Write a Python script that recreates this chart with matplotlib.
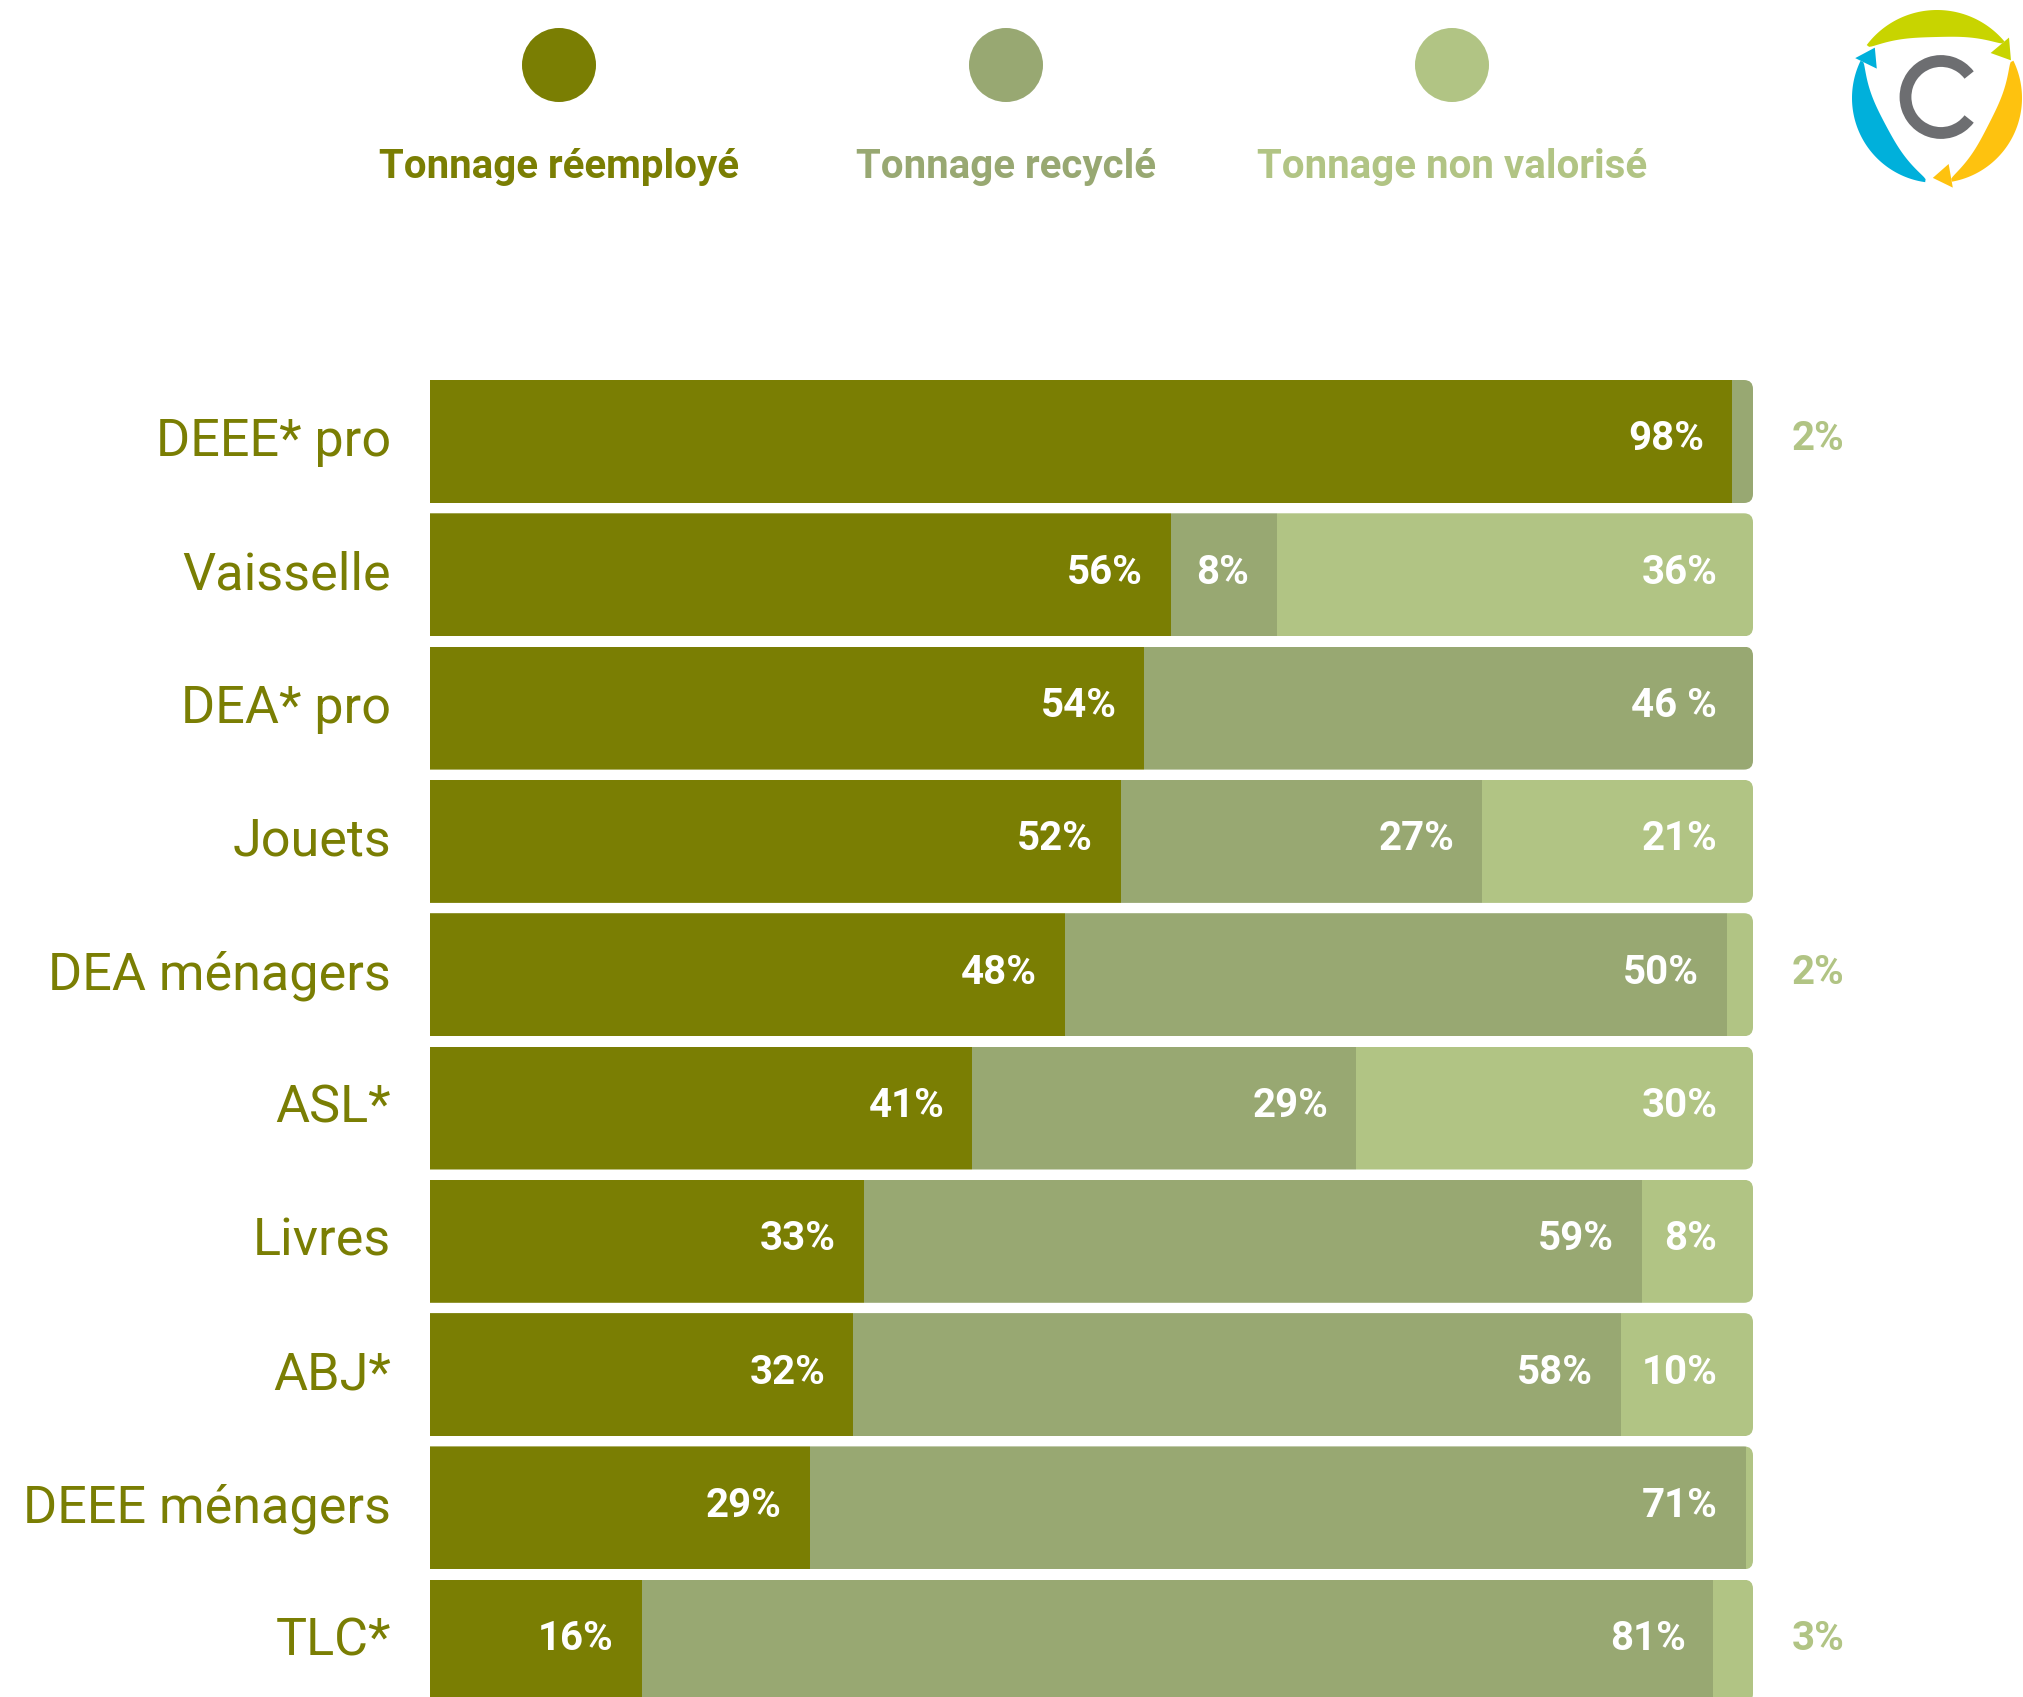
import numpy as np
import matplotlib.pyplot as plt
from matplotlib.patches import FancyBboxPatch, Arc, Polygon
from matplotlib.transforms import ScaledTranslation

plt.rcParams['font.family'] = ['Roboto', 'DejaVu Sans']

categories = ['DEEE* pro', 'Vaisselle', 'DEA* pro', 'Jouets', 'DEA ménagers',
              'ASL*', 'Livres', 'ABJ*', 'DEEE ménagers', 'TLC*']
reemploi = [98.4, 56, 54, 52.2, 48, 41, 32.8, 32, 28.7, 16]
recycle = [1.6, 8, 46, 27.3, 50, 29, 58.8, 58, 70.8, 81]
non_valorise = [0, 36, 0, 20.5, 2, 30, 8.4, 10, 0.5, 3]
lbl_reemploi = ['98%', '56%', '54%', '52%', '48%', '41%', '33%', '32%', '29%', '16%']
lbl_recycle = ['2%', '8%', '46 %', '27%', '50%', '29%', '59%', '58%', '71%', '81%']
lbl_non = ['', '36%', '', '21%', '2%', '30%', '8%', '10%', '', '3%']
series_names = ['Tonnage réemployé', 'Tonnage recyclé', 'Tonnage non valorisé']
colors = ['#7a7e03', '#98a872', '#b1c484']

W, H = 2024, 1697
fig = plt.figure(figsize=(W / 100, H / 100), dpi=100)
up = ScaledTranslation(0, 5 / 100, fig.dpi_scale_trans)
up_small = ScaledTranslation(0, 2 / 100, fig.dpi_scale_trans)

# header axes in pixel coordinates (legend + logo)
hdr = fig.add_axes([0, 0, 1, 1])
hdr.set_xlim(0, W)
hdr.set_ylim(H, 0)
hdr.axis('off')

leg_x = [559, 1006, 1452]
for x, name, c in zip(leg_x, series_names, colors):
    hdr.scatter([x], [65], s=2840, color=c, edgecolors='none')
    hdr.text(x, 167, name, color=c, fontsize=29, fontweight='bold',
             ha='center', va='center')

# logo
def crescent(cx, cy, R, wmax, a_tail, a_head, color):
    th = np.radians(np.linspace(a_tail, a_head, 80))
    t = np.linspace(0, 1, 80)
    w = 3 + wmax * np.sin(np.pi * t) ** 0.8
    outer = np.c_[cx + R * np.cos(th), cy - R * np.sin(th)]
    inner = np.c_[cx + (R - w) * np.cos(th), cy - (R - w) * np.sin(th)]
    hdr.add_patch(Polygon(np.vstack([outer, inner[::-1]]), closed=True,
                          color=color, lw=0))
    # arrow head
    sgn = np.sign(a_head - a_tail)
    a0 = np.radians(a_head)
    a1 = np.radians(a_head + sgn * 13)
    rm = R - 5
    pts = [(cx + (R + 6) * np.cos(a0), cy - (R + 6) * np.sin(a0)),
           (cx + (R - 18) * np.cos(a0), cy - (R - 18) * np.sin(a0)),
           (cx + rm * np.cos(a1), cy - rm * np.sin(a1))]
    hdr.add_patch(Polygon(pts, closed=True, color=color, lw=0))

lcx, lcy = 1937, 98
crescent(lcx, lcy, 88, 24, 143, 40, '#c8d400')
crescent(lcx, lcy, 85, 24, 262, 154, '#00b0db')
crescent(lcx, lcy, 85, 24, 26, -80, '#fec20f')
hdr.add_patch(Arc((1941, 97), 71, 72, theta1=38, theta2=322,
                  color='#6d6e71', lw=8.5))

# bar axes
x0, x1 = 430, 1753
pitch = 133.3
top_center = 441.5
y_top = top_center - pitch / 2
ax = fig.add_axes([x0 / W, 0, (x1 - x0) / W, (H - y_top) / H])
ax.set_xlim(0, 100)
ax.set_ylim((H - top_center) / pitch, -0.5)
ax.patch.set_alpha(0)
for s in ax.spines.values():
    s.set_visible(False)
ax.set_xticks([])

y = np.arange(len(categories))
bh = 123 / pitch
left1 = np.array(reemploi, dtype=float)
left2 = left1 + np.array(recycle)
b1 = ax.barh(y, reemploi, height=bh, color=colors[0], lw=0)
b2 = ax.barh(y, recycle, left=left1, height=bh, color=colors[1], lw=0)
b3 = ax.barh(y, non_valorise, left=left2, height=bh, color=colors[2], lw=0)

# rounded right end of every bar
aspect = ((x1 - x0) / 100) / pitch
rad = 9 / ((x1 - x0) / 100)
for i in range(len(categories)):
    clip = FancyBboxPatch((-10, i - bh / 2), 110, bh,
                          boxstyle='round,pad=0,rounding_size=%f' % rad,
                          mutation_aspect=aspect, transform=ax.transData)
    for cont in (b1, b2, b3):
        cont.patches[i].set_clip_path(clip)

ax.set_yticks(y)
ax.set_yticklabels(categories, fontsize=37.5, color=colors[0])
ax.tick_params(axis='y', length=0, pad=28)
for lab in ax.get_yticklabels():
    lab.set_transform(lab.get_transform() + up)

off = 2.1
tr = ax.transData + up_small
for i in range(len(categories)):
    segs = [(reemploi[i], 0, lbl_reemploi[i]),
            (recycle[i], left1[i], lbl_recycle[i]),
            (non_valorise[i], left2[i], lbl_non[i])]
    for val, start, txt in segs:
        if not txt:
            continue
        if val < 5:
            ax.text(104.9, i, txt, color=colors[2], fontsize=29,
                    fontweight='bold', ha='center', va='center',
                    clip_on=False, transform=tr)
        else:
            end = 100 if start + val > 99 else start + val
            ax.text(end - off - (0.6 if end == 100 else 0), i, txt,
                    color='white', fontsize=29, fontweight='bold',
                    ha='right', va='center', transform=tr)

fig.savefig('out.png', dpi=100, facecolor='white')
